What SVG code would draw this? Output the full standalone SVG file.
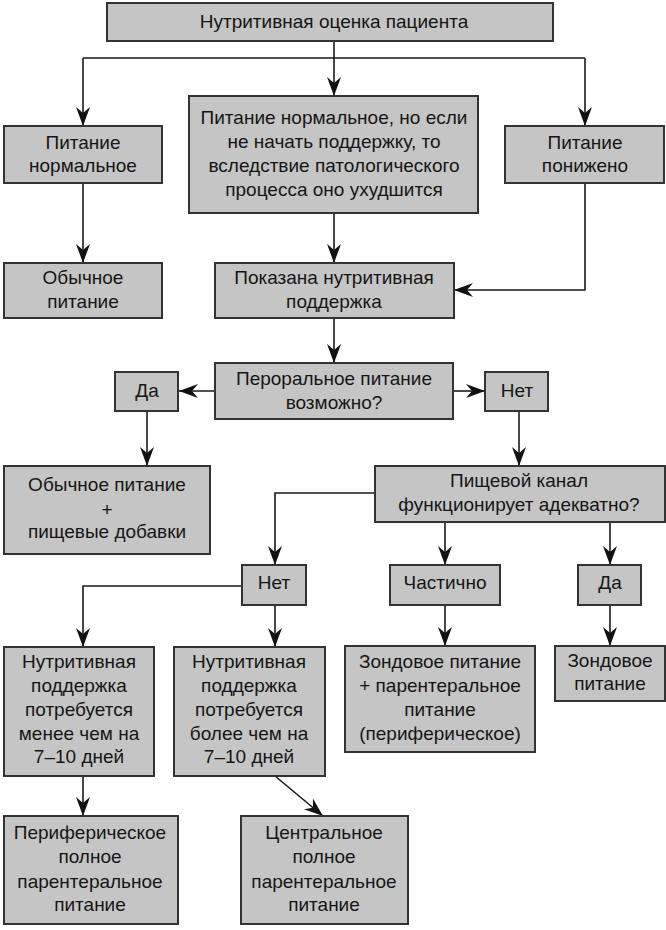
<svg xmlns="http://www.w3.org/2000/svg" width="666" height="930" viewBox="0 0 666 930">
<style>
.box{fill:#c5c5c5;stroke:#333;stroke-width:2}
.t{font-family:"Liberation Sans",Arial,sans-serif;font-size:19px;fill:#151515;text-anchor:middle}
.c{fill:none;stroke:#1a1a1a;stroke-width:1.6}
.a{marker-end:url(#arr)}
</style>
<defs>
<marker id="arr" markerUnits="userSpaceOnUse" markerWidth="20" markerHeight="14" refX="19" refY="7" orient="auto">
<path d="M0,0 L19,7 L0,14 L6,7 Z" fill="#111"/>
</marker>
</defs>
<rect width="666" height="930" fill="#fff"/>
<g id="connectors">
<path class="c" d="M334,41 V58 M83,58 H585"/>
<path class="c a" d="M83,58 V126"/>
<path class="c a" d="M334,58 V96"/>
<path class="c a" d="M585,58 V126"/>
<path class="c a" d="M83,183 V263"/>
<path class="c a" d="M334,213 V263"/>
<path class="c a" d="M585,183 V290 H454"/>
<path class="c a" d="M334,318 V363"/>
<path class="c a" d="M215,391 H179"/>
<path class="c a" d="M453,391 H485"/>
<path class="c a" d="M147,411 V466"/>
<path class="c a" d="M519,411 V466"/>
<path class="c a" d="M375,493 H275 V565"/>
<path class="c a" d="M445,522 V565"/>
<path class="c a" d="M610,522 V565"/>
<path class="c a" d="M242,586 H83 V647"/>
<path class="c a" d="M275,605 V647"/>
<path class="c a" d="M445,605 V646"/>
<path class="c a" d="M610,605 V646"/>
<path class="c a" d="M83,776 V816"/>
<path class="c a" d="M275,776 L323,816"/>
</g>
<g id="n_top"><rect class="box" x="107" y="3" width="446" height="38"/><text class="t" x="334" y="28">Нутритивная оценка пациента</text></g>
<g id="n_norm"><rect class="box" x="4" y="126" width="158" height="57"/><text class="t" x="83" y="149">Питание</text><text class="t" x="83" y="172">нормальное</text></g>
<g id="n_mid"><rect class="box" x="189" y="96" width="289" height="117"/><text class="t" x="334" y="124">Питание нормальное, но если</text><text class="t" x="334" y="148">не начать поддержку, то</text><text class="t" x="334" y="172">вследствие патологического</text><text class="t" x="334" y="196">процесса оно ухудшится</text></g>
<g id="n_low"><rect class="box" x="505" y="126" width="159" height="57"/><text class="t" x="585" y="149">Питание</text><text class="t" x="585" y="172">понижено</text></g>
<g id="n_usual"><rect class="box" x="4" y="263" width="158" height="55"/><text class="t" x="83" y="284">Обычное</text><text class="t" x="83" y="308">питание</text></g>
<g id="n_shown"><rect class="box" x="215" y="263" width="239" height="55"/><text class="t" x="334" y="284">Показана нутритивная</text><text class="t" x="334" y="308">поддержка</text></g>
<g id="n_oral"><rect class="box" x="215" y="363" width="238" height="56"/><text class="t" x="334" y="385">Пероральное питание</text><text class="t" x="334" y="409">возможно?</text></g>
<g id="n_yes1"><rect class="box" x="115" y="372" width="63" height="39"/><text class="t" x="147" y="397">Да</text></g>
<g id="n_no1"><rect class="box" x="485" y="372" width="63" height="39"/><text class="t" x="517" y="397">Нет</text></g>
<g id="n_usual2"><rect class="box" x="4" y="466" width="206" height="88"/><text class="t" x="107" y="491">Обычное питание</text><text class="t" x="107" y="516">+</text><text class="t" x="107" y="538">пищевые добавки</text></g>
<g id="n_gi"><rect class="box" x="375" y="466" width="290" height="56"/><text class="t" x="519" y="487">Пищевой канал</text><text class="t" x="519" y="511">функционирует адекватно?</text></g>
<g id="n_no2"><rect class="box" x="242" y="565" width="64" height="40"/><text class="t" x="274" y="589">Нет</text></g>
<g id="n_part"><rect class="box" x="390" y="565" width="110" height="40"/><text class="t" x="445" y="589">Частично</text></g>
<g id="n_yes2"><rect class="box" x="578" y="565" width="63" height="40"/><text class="t" x="610" y="589">Да</text></g>
<g id="n_less"><rect class="box" x="4" y="647" width="150" height="129"/><text class="t" x="79" y="668">Нутритивная</text><text class="t" x="79" y="692">поддержка</text><text class="t" x="79" y="716">потребуется</text><text class="t" x="79" y="740">менее чем на</text><text class="t" x="79" y="763">7–10 дней</text></g>
<g id="n_more"><rect class="box" x="174" y="647" width="151" height="129"/><text class="t" x="249" y="668">Нутритивная</text><text class="t" x="249" y="692">поддержка</text><text class="t" x="249" y="716">потребуется</text><text class="t" x="249" y="740">более чем на</text><text class="t" x="249" y="763">7–10 дней</text></g>
<g id="n_tube_par"><rect class="box" x="345" y="646" width="190" height="106"/><text class="t" x="440" y="668">Зондовое питание</text><text class="t" x="440" y="692">+ парентеральное</text><text class="t" x="440" y="716">питание</text><text class="t" x="440" y="740">(периферическое)</text></g>
<g id="n_tube"><rect class="box" x="555" y="646" width="110" height="55"/><text class="t" x="610" y="667">Зондовое</text><text class="t" x="610" y="690">питание</text></g>
<g id="n_periph"><rect class="box" x="4" y="816" width="174" height="108"/><text class="t" x="90" y="839">Периферическое</text><text class="t" x="90" y="863">полное</text><text class="t" x="90" y="888">парентеральное</text><text class="t" x="90" y="911">питание</text></g>
<g id="n_central"><rect class="box" x="241" y="816" width="167" height="108"/><text class="t" x="324" y="839">Центральное</text><text class="t" x="324" y="863">полное</text><text class="t" x="324" y="888">парентеральное</text><text class="t" x="324" y="911">питание</text></g>
</svg>
